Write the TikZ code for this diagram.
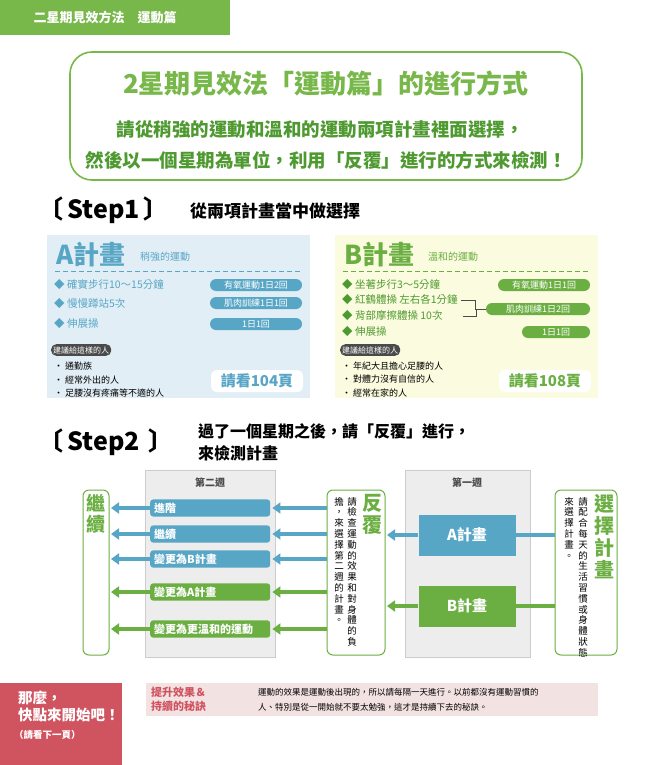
\documentclass[tikz,border=0pt]{standalone}
\usepackage{fontspec}
\setmainfont{Noto Sans CJK TC}
\usetikzlibrary{arrows.meta}
\XeTeXlinebreaklocale "zh"
\XeTeXlinebreakskip=0pt plus 1pt
\definecolor{gA}{HTML}{6BAF42}
\definecolor{gT}{HTML}{78B84A}
\definecolor{gD}{HTML}{4E9A30}
\definecolor{bA}{HTML}{58A6C6}
\definecolor{bL}{HTML}{E2EEF5}
\definecolor{yL}{HTML}{FBFBDF}
\definecolor{tx}{HTML}{4A4A4A}
\definecolor{wk}{HTML}{EDEDED}
\definecolor{rd}{HTML}{D05360}
\definecolor{pk}{HTML}{F3E2E2}
\tikzset{
 tag/.style={rounded corners=6pt,minimum height=12pt,font=\fontsize{9}{9}\selectfont,text=white,inner sep=0pt},
 item/.style={anchor=west,font=\fontsize{10.5}{10}\selectfont,inner sep=0pt},
 bul/.style={anchor=west,font=\fontsize{9}{9}\selectfont,text=black,inner sep=0pt},
 bar/.style={rounded corners=3pt,anchor=west,minimum height=16pt,minimum width=120pt,text=white,font=\fontsize{11}{11}\bfseries\selectfont,inner xsep=4pt,text width=112pt},
 vbox/.style={draw=gA,line width=1pt,rounded corners=6pt,fill=white},
 vt/.style={align=center,inner sep=0pt,anchor=north,font=\fontsize{9.5}{10.8}\selectfont,text=black},
 vbig/.style={align=center,inner sep=0pt,anchor=north,font=\fontsize{20}{22}\bfseries\selectfont,text=gA},
 arr/.style={line width=4pt,-{Triangle[width=11pt,length=8pt]}},
}
\begin{document}
\begin{tikzpicture}[x=1pt,y=-1pt]
\useasboundingbox (0,0) rectangle (663,765);
% banner
\fill[gT] (0,0) rectangle (230,35);
\node[text=white,font=\fontsize{13}{13}\bfseries\selectfont] (ban) at (105,18) {二星期見效方法\quad 運動篇};
% title
\draw[gT,line width=1.6pt,fill=white,rounded corners=22pt] (70,52) rectangle (582,180);
\node[text=gT,font=\fontsize{26}{26}\bfseries\selectfont] (t1) at (326,84) {2星期見效法「運動篇」的進行方式};
\node[text=gD,font=\fontsize{18.5}{18}\bfseries\selectfont] (t2) at (320,129) {請從稍強的運動和溫和的運動兩項計畫裡面選擇，};
\node[text=gD,font=\fontsize{18.5}{18}\bfseries\selectfont] (t3) at (326,160) {然後以一個星期為單位，利用「反覆」進行的方式來檢測！};
% step1
\node[anchor=west,font=\fontsize{25}{25}\bfseries\selectfont,inner sep=0] (s1) at (38,210) {〔\,Step1\,〕};
\node[anchor=west,font=\fontsize{17}{17}\bfseries\selectfont,inner sep=0] (s1t) at (190,211) {從兩項計畫當中做選擇};
% A panel
\fill[bL] (47,235) rectangle (310,398);
\node[anchor=west,text=bA,font=\fontsize{26}{26}\bfseries\selectfont,inner sep=0] (Ah) at (56,255) {A計畫};
\node[anchor=west,text=bA,font=\fontsize{10}{10}\selectfont,inner sep=0] (Ahs) at (140,257) {稍強的運動};
\draw[bA,dash pattern=on 5pt off 3pt,line width=0.8pt] (55,271) -- (302,271);
\node[item,text=bA] (a1) at (54,285) {◆ 確實步行10～15分鐘};
\node[item,text=bA] (a2) at (54,304) {◆ 慢慢蹲站5次};
\node[item,text=bA] (a3) at (54,324) {◆ 伸展操};
\node[tag,fill=bA,minimum width=92pt] (at1) at (256,285) {有氧運動1日2回};
\node[tag,fill=bA,minimum width=92pt] (at2) at (256,303) {肌肉訓練1日1回};
\node[tag,fill=bA,minimum width=92pt] (at3) at (256,324) {1日1回};
\node[fill=tx,text=white,rounded corners=5pt,font=\fontsize{8}{8}\selectfont,inner sep=2pt,anchor=west] (ar) at (51,350) {建議給這樣的人};
\node[bul] (ab1) at (54,366) {・ 通勤族};
\node[bul] (ab2) at (54,380) {・ 經常外出的人};
\node[bul] (ab3) at (54,393) {・ 足腰沒有疼痛等不適的人};
\node[fill=white,rounded corners=6pt,text=bA,font=\fontsize{15}{15}\bfseries\selectfont,minimum width=92pt,minimum height=22pt,inner sep=0] (ap) at (257,381) {請看104頁};
% B panel
\fill[yL] (335,235) rectangle (598,398);
\node[anchor=west,text=gA,font=\fontsize{26}{26}\bfseries\selectfont,inner sep=0] (Bh) at (344,255) {B計畫};
\node[anchor=west,text=gA,font=\fontsize{10}{10}\selectfont,inner sep=0] (Bhs) at (428,257) {溫和的運動};
\draw[gA,dash pattern=on 5pt off 3pt,line width=0.8pt] (343,271) -- (590,271);
\node[item,text=gD] (b1) at (342,285) {◆ 坐著步行3～5分鐘};
\node[item,text=gD] (b2) at (342,300) {◆ 紅鶴體操 左右各1分鐘};
\node[item,text=gD] (b3) at (342,316) {◆ 背部摩擦體操 10次};
\node[item,text=gD] (b4) at (342,332) {◆ 伸展操};
\node[tag,fill=gA,minimum width=92pt] (bt1) at (544,285) {有氧運動1日1回};
\node[tag,fill=gA,minimum width=104pt] (bt2) at (538,309) {肌肉訓練1日2回};
\node[tag,fill=gA,minimum width=68pt] (bt3) at (556,332) {1日1回};
\draw[tx,line width=0.6pt] (b2.east)++(3,0) -- ++(14,0) |- (bt2.west);
\draw[tx,line width=0.6pt] (b3.east)++(20,0) -- ++(14,0) |- (bt2.west);
\node[fill=tx,text=white,rounded corners=5pt,font=\fontsize{8}{8}\selectfont,inner sep=2pt,anchor=west] (br) at (340,350) {建議給這樣的人};
\node[bul] (bb1) at (342,366) {・ 年紀大且擔心足腰的人};
\node[bul] (bb2) at (342,379) {・ 對體力沒有自信的人};
\node[bul] (bb3) at (342,393) {・ 經常在家的人};
\node[fill=white,rounded corners=6pt,text=gA,font=\fontsize{15}{15}\bfseries\selectfont,minimum width=92pt,minimum height=22pt,inner sep=0] (bp) at (545,381) {請看108頁};
% step2
\node[anchor=west,font=\fontsize{25}{25}\bfseries\selectfont,inner sep=0] (s2) at (38,442) {〔\,Step2\,\,〕};
\node[anchor=west,font=\fontsize{16}{16}\bfseries\selectfont,inner sep=0] (s2a) at (198,431) {過了一個星期之後，請「反覆」進行，};
\node[anchor=west,font=\fontsize{16}{16}\bfseries\selectfont,inner sep=0] (s2b) at (198,453) {來檢測計畫};
% week boxes
\fill[wk,draw=gray!40] (145,470) rectangle (275,657);
\node[font=\fontsize{10}{10}\bfseries\selectfont,text=tx] (w2) at (210,483) {第二週};
\fill[wk,draw=gray!40] (405,470) rectangle (530,657);
\node[font=\fontsize{10}{10}\bfseries\selectfont,text=tx] (w1) at (467,483) {第一週};
% left box
\draw[vbox] (83,490) rectangle (109,655);
\node[vbig,font=\fontsize{19}{21}\bfseries\selectfont] (jx) at (96,494) {繼\\續};
\coordinate (jxr) at (111,0);
% bars
\node[bar,fill=bA] (p1) at (150,508) {進階};
\node[bar,fill=bA] (p2) at (150,534) {繼續};
\node[bar,fill=bA] (p3) at (150,559) {變更為B計畫};
\node[bar,fill=gA] (p4) at (150,592) {變更為A計畫};
\node[bar,fill=gA] (p5) at (150,629) {變更為更溫和的運動};
% fanfu box
\draw[vbox] (327,490) rectangle (385,655);
\node[vbig] (ff) at (372,494) {反\\覆};
\node[vt] (ff1) at (352,497) {請\\檢\\查\\運\\動\\的\\效\\果\\和\\對\\身\\體\\的\\負};
\node[vt] (ff2) at (339,497) {擔\\，\\來\\選\\擇\\第\\二\\週\\的\\計\\畫\\。};
% arrows left
\foreach \n/\c in {p1/bA,p2/bA,p3/bA,p4/gA,p5/gA}{
  \draw[arr,\c] (\n.west) -- (\n.west -| jxr);
  \draw[arr,\c] (\n.east -| 327,0) -- ([xshift=2pt]\n.east);
}
% A / B
\node[fill=bA,text=white,minimum width=97pt,minimum height=41pt,font=\fontsize{15}{15}\bfseries\selectfont] (A) at (467,535) {A計畫};
\node[fill=gA,text=white,minimum width=97pt,minimum height=41pt,font=\fontsize{15}{15}\bfseries\selectfont] (B) at (467,606) {B計畫};
\draw[arr,bA] (A.west) -- (A.west -| 387,0);
\draw[arr,gA] (B.west) -- (B.west -| 387,0);
% select box
\draw[vbox] (555,490) rectangle (617,655);
\node[vbig] (xz) at (604,494) {選\\擇\\計\\畫};
\node[vt] (xz1) at (583,497) {請\\配\\合\\每\\天\\的\\生\\活\\習\\慣\\或\\身\\體\\狀\\態};
\node[vt] (xz2) at (569,497) {來\\選\\擇\\計\\畫\\。};
\draw[bA,line width=4pt] (A.east) -- (A.east -| 555,0);
\draw[gA,line width=4pt] (B.east) -- (B.east -| 555,0);
% bottom
\fill[rd] (0,683) rectangle (122,765);
\node[anchor=north west,text=white,align=left,font=\fontsize{14.5}{17}\bfseries\selectfont,inner sep=0] (go) at (18,691) {那麼，\\快點來開始吧！};
\node[anchor=north west,text=white,font=\fontsize{9.5}{9}\bfseries\selectfont,inner sep=0] (go2) at (14,730) {（請看下一頁）};
\fill[pk] (146,683) rectangle (598,716);
\node[anchor=north west,text=rd,align=left,font=\fontsize{11}{14}\bfseries\selectfont,inner sep=0] (tip) at (151,687) {提升效果＆\\持續的秘訣};
\node[anchor=north west,text=black,align=left,font=\fontsize{8.5}{15}\selectfont,inner sep=0] (tipt) at (258,688) {運動的效果是運動後出現的，所以請每隔一天進行。以前都沒有運動習慣的\\人、特別是從一開始就不要太勉強，這才是持續下去的秘訣。};
\end{tikzpicture}
\end{document}
